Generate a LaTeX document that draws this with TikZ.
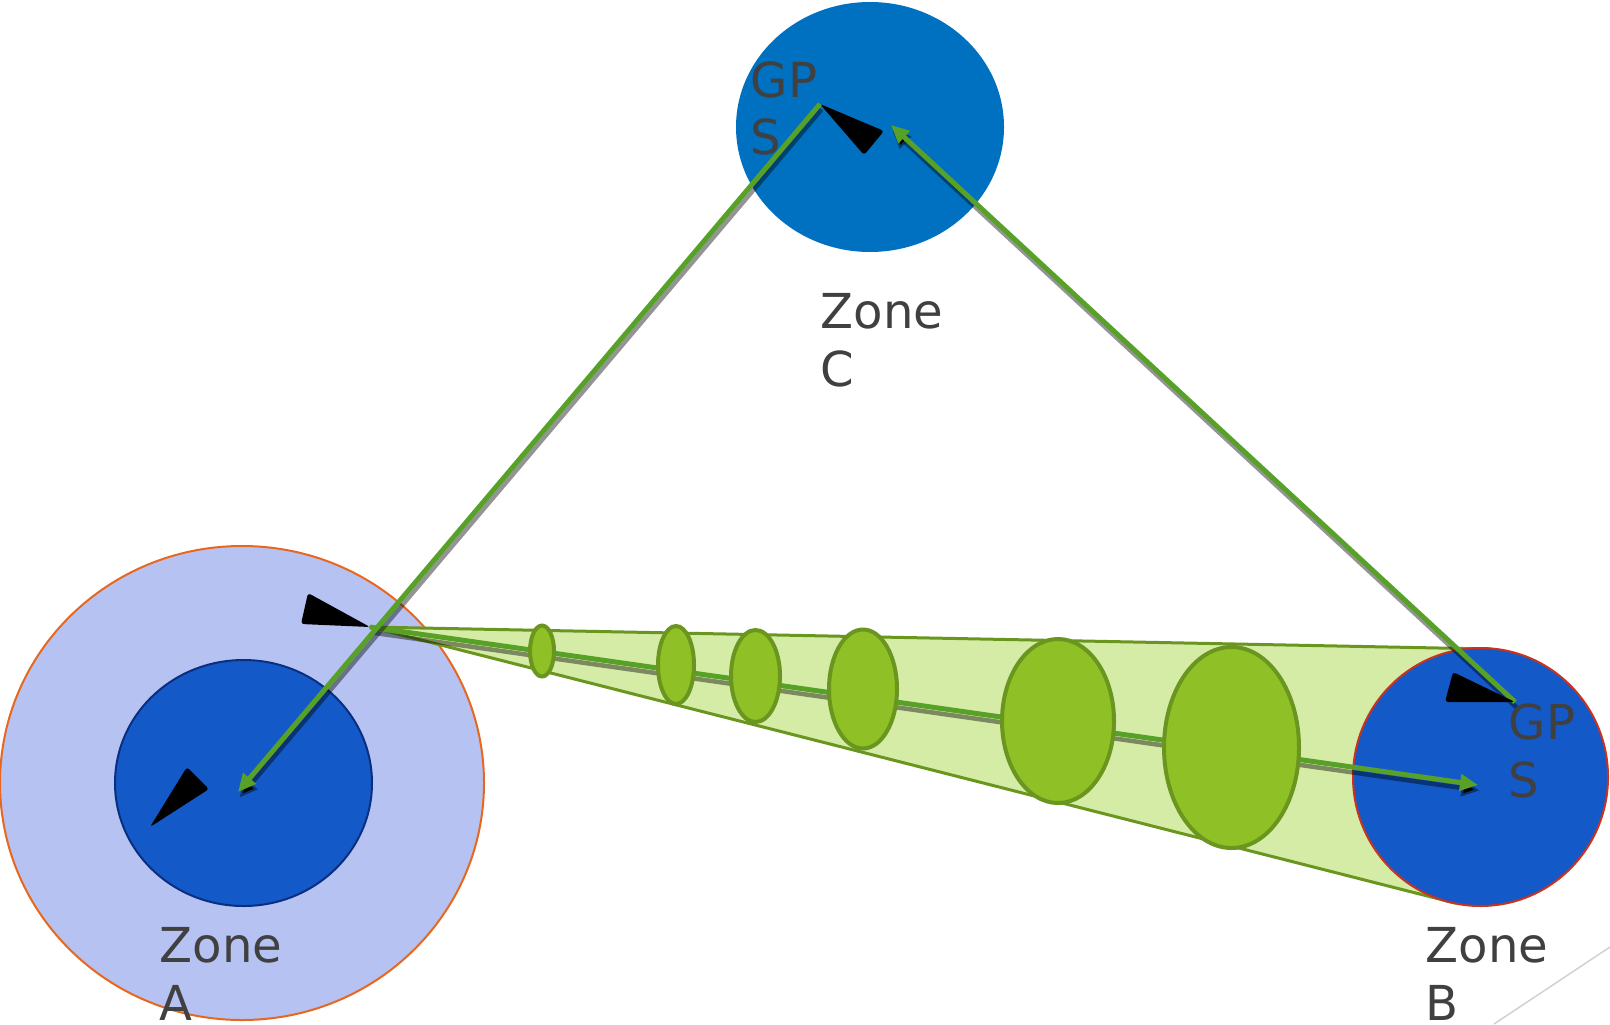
\documentclass[tikz,border=0pt]{standalone}
\usepackage{fontspec}
\setmainfont{DejaVu Sans}
\usepackage{tikz}
\usetikzlibrary{shapes.geometric,arrows.meta}
\definecolor{outerfill}{HTML}{B6C2F2}
\definecolor{outeredge}{HTML}{E8671E}
\definecolor{innerfill}{HTML}{1459C8}
\definecolor{inneredge}{HTML}{0B2F80}
\definecolor{skyfill}{HTML}{0070C0}
\definecolor{redge}{HTML}{C8321E}
\definecolor{conefill}{HTML}{D5ECA7}
\definecolor{coneedge}{HTML}{6A9620}
\definecolor{slabfill}{HTML}{8FC127}
\definecolor{linkgreen}{HTML}{58A128}
\definecolor{txtgray}{HTML}{404040}

\begin{document}
\begin{tikzpicture}[x=0.1mm,y=-0.1mm,
zone/.style={ellipse,inner sep=0pt,line width=0.2mm},
slab/.style={ellipse,inner sep=0pt,draw=coneedge,fill=slabfill,line width=0.4mm},
cone/.style={draw=coneedge,fill=conefill,line width=0.3mm,line join=round},
link/.style={draw=linkgreen,line width=0.5mm,-{Triangle[length=1.8mm,width=1.6mm]},preaction={draw=black,draw opacity=0.42,line width=0.45mm,transform canvas={shift={(1.5,5.5)}}}},
marker/.style={fill=black,rounded corners=0.3mm},
lbl/.style={text=txtgray,font=\fontsize{13.7}{16.3}\selectfont,align=left,anchor=base west,inner sep=0pt}]
\useasboundingbox (0,0) rectangle (1610,1024);
\node[zone,fill=outerfill,draw=outeredge,minimum width=48.4mm,minimum height=47.4mm] (zoneA) at (242,783) {};
\node[zone,fill=innerfill,draw=inneredge,minimum width=25.7mm,minimum height=24.6mm] (coreA) at (243.5,783) {};
\node[zone,fill=skyfill,minimum width=26.8mm,minimum height=25mm] (zoneC) at (870,127) {};
\coordinate (bcnA) at (370,627);
\coordinate (bcnB) at (1515,702);
\coordinate (bcnC) at (820,104);
\coordinate (endA) at (238,792);
\coordinate (endB) at (1478,785);
\coordinate (endC) at (891,125);
\coordinate (coneT) at (1490,649);
\coordinate (coneB) at (1455,903);
\filldraw[cone] (bcnA) -- (coneT) -- (coneB) -- cycle;
\node[zone,fill=innerfill,draw=redge,minimum width=25.5mm,minimum height=25.8mm] (zoneB) at (1480.5,777) {};
\draw[link] (bcnA) -- (endB);
\foreach \x/\y/\w/\h in %
{542/651/2.4/5.1,676/665/3.6/7.8,755.5/676/4.9/9.2,863/689/6.8/11.9,1058/721/11.2/16.4,1231.5/747.5/13.5/20.1} {
   \node[slab,minimum width=\w mm,minimum height=\h mm] at (\x,\y) {};
}
\draw[link] (bcnC) -- (endA);
\draw[link] (bcnB) -- (endC);
\fill[marker] (308,593) -- (301,624) -- (bcnA) -- cycle;
\fill[marker] (187,767) -- (150,827) -- (209,789) -- cycle;
\fill[marker] (bcnC) -- (864,155) -- (884,131) -- cycle;
\fill[marker] (1453,672) -- (1445,702) -- (bcnB) -- cycle;
\node[lbl] (gpsC) at (750,155) {GP\\S};
\node[lbl] (gpsB) at (1508,797) {GP\\S};
\node[lbl] (nameC) at (820,386) {Zone\\C};
\node[lbl] (nameA) at (159,1020) {Zone\\A};
\node[lbl] (nameB) at (1425,1020) {Zone\\B};
\coordinate (rimS) at (1494,1024);
\coordinate (rimE) at (1610,947);
\draw[black!18,line width=0.15mm] (rimS) -- (rimE);
\end{tikzpicture}
\end{document}
